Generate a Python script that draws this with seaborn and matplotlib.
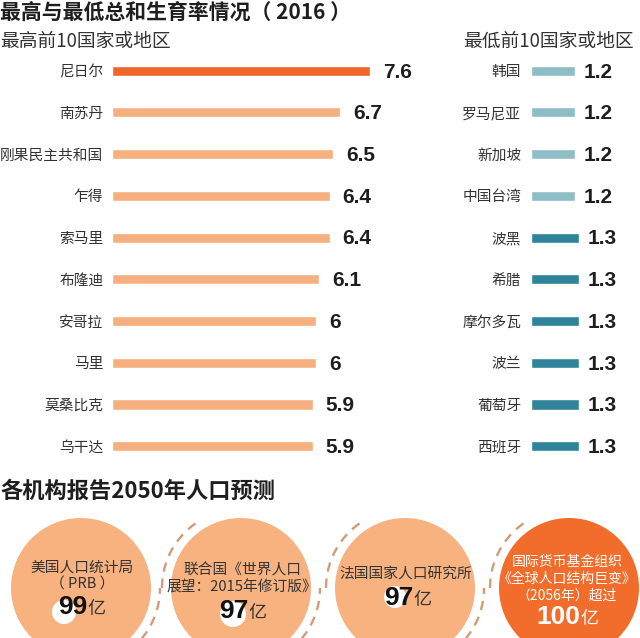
import numpy as np
import pandas as pd
import matplotlib
matplotlib.use("Agg")
import matplotlib.pyplot as plt
from matplotlib.patches import Circle
import seaborn as sns

# data
high_names = ["尼日尔", "南苏丹", "刚果民主共和国", "乍得", "索马里",
              "布隆迪", "安哥拉", "马里", "莫桑比克", "乌干达"]
high_vals = [7.6, 6.7, 6.5, 6.4, 6.4, 6.1, 6, 6, 5.9, 5.9]
low_names = ["韩国", "罗马尼亚", "新加坡", "中国台湾", "波黑",
             "希腊", "摩尔多瓦", "波兰", "葡萄牙", "西班牙"]
low_vals = [1.2, 1.2, 1.2, 1.2, 1.3, 1.3, 1.3, 1.3, 1.3, 1.3]
orgs = ["美国人口统计局\n（ PRB ）",
        "联合国《世界人口\n展望：2015年修订版》",
        "法国国家人口研究所",
        "国际货币基金组织\n《全球人口结构巨变》\n（2056年）超过"]
forecast = [99, 97, 97, 100]

sns.set_style("white")
plt.rcParams['font.family'] = ['Noto Sans CJK SC', 'DejaVu Sans']

W, H = 640, 638
fig = plt.figure(figsize=(6.4, 6.38), dpi=100)
fig.patch.set_facecolor("white")

# background axes in pixel units for titles and the bubbles
bg = fig.add_axes([0, 0, 1, 1])
bg.set_xlim(0, W)
bg.set_ylim(H, 0)
bg.axis("off")

dark = "#1e1e1e"
bg.text(0, 12, "最高与最低总和生育率情况（ 2016 ）", fontsize=15, fontweight="bold",
        color=dark, va="center", ha="left")
bg.text(0, 41, "最高前10国家或地区", fontsize=13.5, color="#333333", va="center", ha="left")
bg.text(634, 41, "最低前10国家或地区", fontsize=13.5, color="#333333", va="center", ha="right")
bg.text(0, 491, "各机构报告2050年人口预测", fontsize=16, fontweight="bold",
        color=dark, va="center", ha="left")

# bar panels
top_px, row_px = 49.8, 41.73
ax_h = 10 * row_px


def bar_panel(left_px, width_px, px_per_unit, names, vals, colors, gap):
    ax = fig.add_axes([left_px / W, (H - top_px - ax_h) / H, width_px / W, ax_h / H])
    ax.patch.set_alpha(0)
    df = pd.DataFrame({"name": names, "val": vals})
    sns.barplot(data=df, x="val", y="name", hue="name", palette=colors, legend=False,
                orient="h", width=0.24, saturation=1, ax=ax)
    ax.set_xlim(0, width_px / px_per_unit)
    ax.set_ylim(9.5, -0.5)
    ax.set_xticks([])
    ax.set_xlabel("")
    ax.set_ylabel("")
    ax.tick_params(axis="y", length=0, pad=gap, labelsize=10.6, labelcolor="#333333")
    sns.despine(ax=ax, left=True, bottom=True)
    return ax


hi_colors = ["#F0662A"] + ["#F6B080"] * 9
ax1 = bar_panel(112, 300, 34.0, high_names, high_vals, hi_colors, 6.2)
for i, v in enumerate(high_vals):
    ax1.annotate(f"{v:g}", (v, i), xytext=(9.4, -1), textcoords="offset points",
                 va="center", ha="left", fontsize=15, fontweight="bold",
                 family="Liberation Sans", color=dark)

lo_colors = ["#8FBDC7" if v < 1.25 else "#2F8499" for v in low_vals]
ax2 = bar_panel(531, 100, 36.7, low_names, low_vals, lo_colors, 7)
for i, v in enumerate(low_vals):
    ax2.annotate(f"{v:g}", (v, i), xytext=(6.5, -1), textcoords="offset points",
                 va="center", ha="left", fontsize=15, fontweight="bold",
                 family="Liberation Sans", color=dark)

# bubbles
cxs = [81, 241, 405, 569]
cy, r = 588, 70
fills = ["#F7B27F", "#F7B27F", "#F7B27F", "#F26C2C"]


def arc(cx, t0, t1, R=79):
    t = np.radians(np.linspace(t0, t1, 40))
    bg.plot(cx + R * np.cos(t), cy - R * np.sin(t), ls=(0, (4, 3)),
            color="#D29C78", lw=1.7, zorder=1)


for i in range(3):
    arc(cxs[i], -65, 0)
    arc(cxs[i + 1], 180, 122)

for cx, fc in zip(cxs, fills):
    bg.add_patch(Circle((cx, cy), r, facecolor=fc, edgecolor="none", zorder=2))

# white discs behind the numbers
for x, y, rr in [(64, 612, 12), (233, 614, 13), (395, 597, 11)]:
    bg.add_patch(Circle((x, y), rr, facecolor="white", edgecolor="none", zorder=3))

txt_pos = [(82, 576), (242, 579), (406, 575), (567, 579)]
num_pos = [(87, 607), (248, 611), (413, 598), (580, 617)]
for k in range(4):
    col = "white" if k == 3 else "#333333"
    ncol = "white" if k == 3 else "#111111"
    fs = 10 if k == 3 else 10.6
    bg.text(*txt_pos[k], orgs[k], fontsize=fs, color=col, ha="center", va="center",
            linespacing=1.25, zorder=4)
    nx, ny = num_pos[k]
    bg.text(nx, ny, str(forecast[k]), fontsize=19, fontweight="bold",
            family="Liberation Sans", color=ncol, ha="right", va="center", zorder=4)
    bg.text(nx, ny + 2, "亿", fontsize=13, color=col, ha="left", va="center", zorder=4)

fig.savefig("out.png", dpi=100)
